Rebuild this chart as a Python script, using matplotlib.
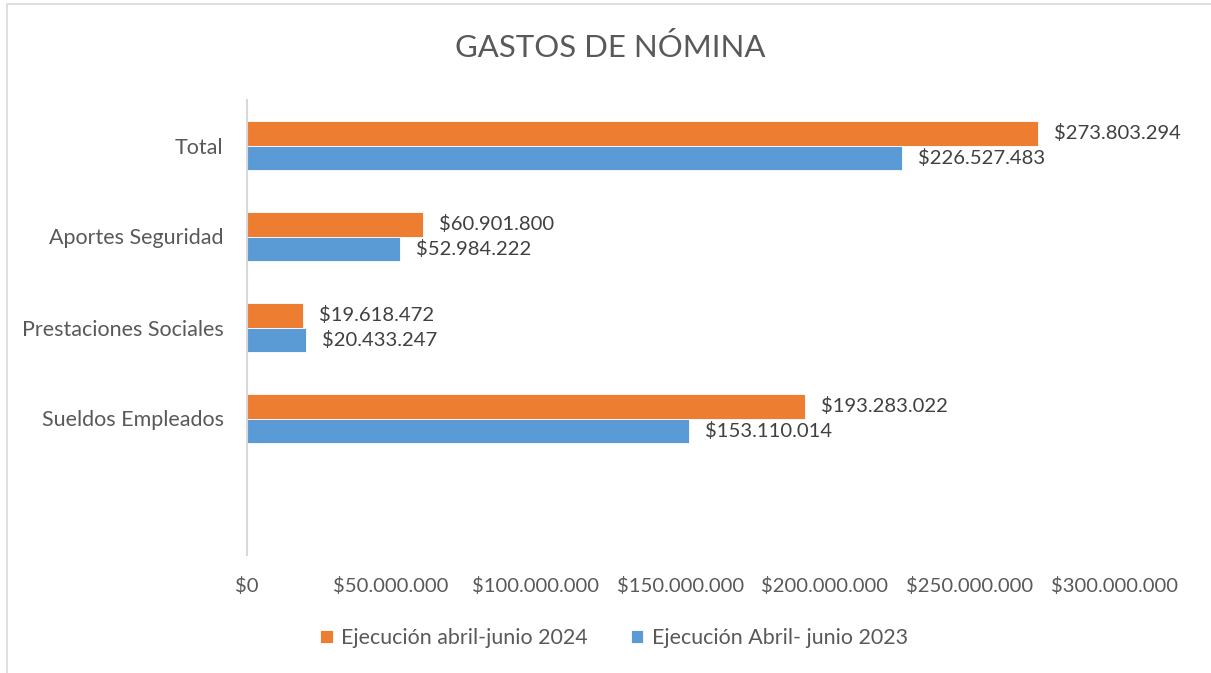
import matplotlib.pyplot as plt
import matplotlib.patches as patches
import numpy as np

# datos del grafico
categorias = ["Total", "Aportes Seguridad", "Prestaciones Sociales", "Sueldos Empleados", ""]
ejec_2024 = [273803294, 60901800, 19618472, 193283022, np.nan]
ejec_2023 = [226527483, 52984222, 20433247, 153110014, np.nan]
ticks_x = [0, 50000000, 100000000, 150000000, 200000000, 250000000, 300000000]

naranja = '#ED7D31'
azul = '#5B9BD5'
gris = '#595959'

plt.rcParams['font.family'] = ['Lato', 'DejaVu Sans']

W, H = 1211, 673
fig = plt.figure(figsize=(W / 100, H / 100), dpi=100)
ax = fig.add_axes([246.5 / W, 1 - 555 / H, 867.5 / W, 455 / H])

def pesos(v):
    return '$' + f'{v:,.0f}'.replace(',', '.')

y = np.arange(len(categorias))
h = 0.264
b1 = ax.barh(y - h / 2, ejec_2024, height=h, color=naranja, edgecolor='white', linewidth=0.6,
             label='Ejecución abril-junio 2024')
b2 = ax.barh(y + h / 2, ejec_2023, height=h, color=azul, edgecolor='white', linewidth=0.6,
             label='Ejecución Abril- junio 2023')

# etiquetas de valores
for barras, vals in ((b1, ejec_2024), (b2, ejec_2023)):
    for rect, v in zip(barras, vals):
        if np.isnan(v):
            continue
        ax.annotate(pesos(v), (v, rect.get_y() + rect.get_height() / 2),
                    xytext=(11.5, 0), textcoords='offset points',
                    ha='left', va='center', fontsize=14.6, color='#404040',
                    annotation_clip=False)

ax.set_xlim(0, 300000000)
ax.set_ylim(len(categorias) - 0.5, -0.5)
ax.set_xticks(ticks_x)
ax.set_xticklabels([pesos(t) for t in ticks_x])
ax.set_yticks(y)
ax.set_yticklabels(categorias)
ax.tick_params(axis='x', length=0, pad=16, labelsize=14.6, labelcolor=gris)
ax.tick_params(axis='y', length=0, pad=16.5, labelsize=15.5, labelcolor=gris)

for s in ['top', 'right', 'bottom']:
    ax.spines[s].set_visible(False)
ax.spines['left'].set_color('#D9D9D9')
ax.spines['left'].set_linewidth(1.5)

fig.text(610 / W, 1 - 47.5 / H, 'GASTOS DE NÓMINA', ha='center', va='center',
         fontsize=22.4, color=gris)

fig.legend(handles=[b1, b2], loc='center', bbox_to_anchor=(614 / W, 1 - 638 / H),
           ncol=2, frameon=False, fontsize=15.4, labelcolor=gris,
           handlelength=0.6, handleheight=0.6, handletextpad=0.4, columnspacing=2.0)

# borde del area del grafico
fig.patches.append(patches.Rectangle((7 / W, -0.1), 1.2, (H - 4) / H + 0.1,
                                     transform=fig.transFigure, fill=False,
                                     edgecolor='#D9D9D9', linewidth=1.2))

fig.savefig('out.png', dpi=100)
